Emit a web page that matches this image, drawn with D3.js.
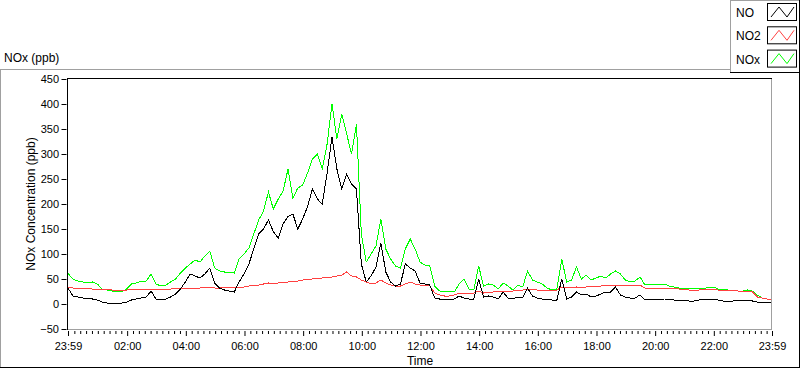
<!DOCTYPE html>
<html>
<head>
<meta charset="utf-8">
<script src="https://cdn.jsdelivr.net/npm/d3@7"></script>
<style>
  body { margin: 0; background: #fff; }
  svg { display: block; font-family: "Liberation Sans", Arial, sans-serif; }
  .axis text { font-size: 11px; fill: #000; }
  .axis line { stroke: #000; }
  .axis path { display: none; }
</style>
</head>
<body>
<div class="chart-wrapper"></div>
<script>
// series names, legend order
var seriesNames = ["NO", "NO2", "NOx"];
// first sample is 23:59, then one every 10 minutes till 23:59 the next day
var startTime = "23:59";
var stepMinutes = 10;

// values, ppb
var noValues = [32, 16, 14, 12, 12, 10, 8, 4, 2, 2, 2, 2, 4, 8, 10, 12, 14, 26, 10, 8,
  10, 14, 20, 30, 44, 60, 56, 52, 60, 72, 42, 32, 28, 26, 24, 44, 60, 80, 110, 140,
  150, 168, 145, 132, 160, 175, 180, 150, 170, 195, 230, 210, 200, 262, 334, 270, 230, 260, 240, 230,
  80, 44, 56, 74, 122, 64, 44, 36, 40, 80, 72, 66, 42, 40, 38, 12, 10, 10, 10, 10,
  16, 12, 10, 10, 50, 14, 16, 14, 10, 24, 12, 10, 14, 12, 32, 16, 12, 10, 10, 8,
  8, 50, 10, 14, 24, 18, 20, 14, 16, 20, 24, 24, 34, 18, 14, 12, 12, 18, 8, 10,
  10, 10, 10, 9, 8, 8, 8, 6, 6, 8, 10, 10, 10, 8, 6, 6, 6, 8, 8, 8,
  6, 4, 4, 4, 4];
var no2Values = [34, 32, 32, 32, 31, 30, 30, 30, 29, 28, 28, 28, 28, 30, 30, 30, 30, 30, 30, 30,
  30, 30, 31, 31, 31, 31, 32, 32, 33, 33, 32, 32, 33, 33, 32, 34, 34, 36, 38, 38,
  40, 42, 40, 42, 44, 44, 46, 46, 48, 50, 50, 52, 52, 54, 54, 56, 58, 64, 56, 54,
  48, 44, 40, 42, 48, 42, 38, 36, 36, 40, 44, 40, 38, 38, 36, 22, 18, 16, 16, 18,
  22, 22, 20, 22, 26, 22, 24, 24, 26, 26, 24, 26, 28, 28, 30, 30, 28, 28, 27, 27,
  28, 34, 34, 32, 34, 32, 34, 36, 36, 36, 38, 38, 38, 38, 38, 38, 38, 38, 32, 32,
  32, 32, 32, 32, 32, 30, 30, 28, 28, 28, 30, 30, 30, 28, 28, 28, 28, 26, 26, 26,
  24, 14, 12, 10, 10];
var noxValues = [61, 50, 46, 44, 42, 44, 40, 30, 28, 26, 24, 25, 30, 40, 42, 46, 46, 60, 40, 36,
  38, 44, 50, 62, 72, 80, 88, 84, 96, 106, 72, 66, 64, 64, 62, 90, 100, 112, 140, 168,
  186, 224, 190, 210, 226, 270, 212, 232, 238, 262, 290, 300, 270, 320, 400, 330, 380, 340, 300, 360,
  140, 84, 100, 116, 170, 110, 90, 76, 72, 110, 130, 110, 84, 78, 76, 36, 26, 24, 26, 24,
  40, 50, 30, 28, 76, 36, 40, 38, 30, 42, 36, 28, 38, 34, 66, 48, 44, 40, 32, 28,
  30, 90, 44, 48, 74, 50, 58, 48, 52, 56, 52, 60, 66, 60, 48, 44, 46, 54, 38, 40,
  40, 40, 40, 36, 34, 32, 32, 30, 32, 32, 30, 34, 34, 30, 30, 28, 28, 26, 26, 28,
  26, 18, 12, 10, 10];
// y axis ticks
var yTicks = [-50, 0, 50, 100, 150, 200, 250, 300, 350, 400, 450];

var colors = { "NO": "#000000", "NO2": "#ff4040", "NOx": "#00ff00" };

var width = 800, height = 369;
var svg = d3.select(".chart-wrapper").append("svg")
  .attr("width", width)
  .attr("height", height);

var parse = d3.timeParse("%Y-%m-%d %H:%M");
var t0 = parse("2020-01-01 " + startTime);
var t1 = d3.timeMinute.offset(t0, stepMinutes * (noValues.length - 1));

var x = d3.scaleTime().domain([t0, t1]).range([68, 772]);
var y = d3.scaleLinear().domain([-50, 450]).range([329, 79]);

function toPoints(vals) {
  return vals.map(function(v, i) {
    return { t: d3.timeMinute.offset(t0, i * stepMinutes), v: v };
  });
}
var series = [
  { name: "NOx", values: toPoints(noxValues) },
  { name: "NO2", values: toPoints(no2Values) },
  { name: "NO", values: toPoints(noValues) }
];

//outer frame
svg.append("line").attr("x1", 0).attr("x2", 730).attr("y1", 69.5).attr("y2", 69.5).attr("stroke", "#a0a0a0");
svg.append("line").attr("x1", 0.5).attr("x2", 0.5).attr("y1", 69).attr("y2", 368).attr("stroke", "#a0a0a0");
svg.append("line").attr("x1", 0).attr("x2", 800).attr("y1", 367.5).attr("y2", 367.5).attr("stroke", "#000");
svg.append("line").attr("x1", 799.5).attr("x2", 799.5).attr("y1", 72).attr("y2", 368).attr("stroke", "#000");

svg.append("text").attr("x", 4).attr("y", 62).style("font-size", "12px").text("NOx (ppb)");

//lines, clipped to the plot area
svg.append("clipPath").attr("id", "plot-clip")
  .append("rect").attr("x", 68).attr("y", 79).attr("width", 704).attr("height", 250);

var line = d3.line()
  .x(function(d) { return x(d.t); })
  .y(function(d) { return y(d.v); });

svg.append("g").attr("clip-path", "url(#plot-clip)")
  .selectAll("path")
  .data(series)
  .enter().append("path")
  .attr("d", function(d) { return line(d.values); })
  .attr("fill", "none")
  .attr("stroke", function(d) { return colors[d.name]; })
  .attr("stroke-width", 1)
  .attr("shape-rendering", "crispEdges");

//plot border: dark top/left, grey bottom/right
svg.append("line").attr("x1", 67).attr("x2", 772).attr("y1", 78.5).attr("y2", 78.5).attr("stroke", "#000");
svg.append("line").attr("x1", 67.5).attr("x2", 67.5).attr("y1", 78).attr("y2", 330).attr("stroke", "#000");
svg.append("line").attr("x1", 68).attr("x2", 772).attr("y1", 329.5).attr("y2", 329.5).attr("stroke", "#a0a0a0");
svg.append("line").attr("x1", 771.5).attr("x2", 771.5).attr("y1", 79).attr("y2", 330).attr("stroke", "#a0a0a0");

//y axis
svg.append("g").attr("class", "axis")
  .attr("transform", "translate(67,0)")
  .call(d3.axisLeft(y).tickValues(yTicks).tickSize(5).tickPadding(3))
  .selectAll("line").attr("transform", "translate(-0.5,0)");

svg.append("text")
  .attr("transform", "translate(35,204) rotate(-90)")
  .attr("text-anchor", "middle")
  .style("font-size", "12px")
  .text("NOx Concentration (ppb)");

//x axis: labelled ticks at both ends and every even hour, small ticks every 12 min
var evenHours = d3.timeHour.every(2).range(d3.timeMinute.offset(t0, 60), t1);
var majorTicks = [t0].concat(evenHours).concat([t1]);
var minorTicks = d3.timeMinute.every(12).range(t0, t1).filter(function(d) {
  return !majorTicks.some(function(m) { return Math.abs(m - d) < 6 * 60000; });
});
var fmt = d3.timeFormat("%H:%M");

svg.append("g").attr("class", "axis")
  .attr("transform", "translate(0,331)")
  .call(d3.axisBottom(x).tickValues(minorTicks).tickSize(3).tickFormat(""));
svg.append("g").attr("class", "axis")
  .attr("transform", "translate(0,331)")
  .call(d3.axisBottom(x).tickValues(majorTicks).tickSize(5).tickPadding(6).tickFormat(fmt));

svg.append("text").attr("x", 420).attr("y", 365)
  .attr("text-anchor", "middle").style("font-size", "12px").text("Time");

//legend box
var legend = svg.append("g");
legend.append("line").attr("x1", 730.5).attr("x2", 730.5).attr("y1", 0).attr("y2", 72).attr("stroke", "#a0a0a0");
legend.append("line").attr("x1", 730).attr("x2", 800).attr("y1", 0.5).attr("y2", 0.5).attr("stroke", "#a0a0a0");
legend.append("line").attr("x1", 730).attr("x2", 800).attr("y1", 72.5).attr("y2", 72.5).attr("stroke", "#000");
legend.append("line").attr("x1", 799.5).attr("x2", 799.5).attr("y1", 0).attr("y2", 73).attr("stroke", "#000");

var item = legend.selectAll(".item")
  .data(seriesNames)
  .enter().append("g")
  .attr("class", "item")
  .attr("transform", function(d, i) { return "translate(0," + (i * 23.3) + ")"; });

item.append("text").attr("x", 736).attr("y", 17)
  .style("font-size", "12px").text(function(d) { return d; });
item.append("rect").attr("x", 767.5).attr("y", 3.5).attr("width", 29).attr("height", 17)
  .attr("fill", "#fff").attr("stroke", "#000");
item.append("polyline")
  .attr("points", "771,17 779,7 787,17 794,7")
  .attr("fill", "none")
  .attr("stroke", function(d) { return colors[d]; });
</script>
</body>
</html>
